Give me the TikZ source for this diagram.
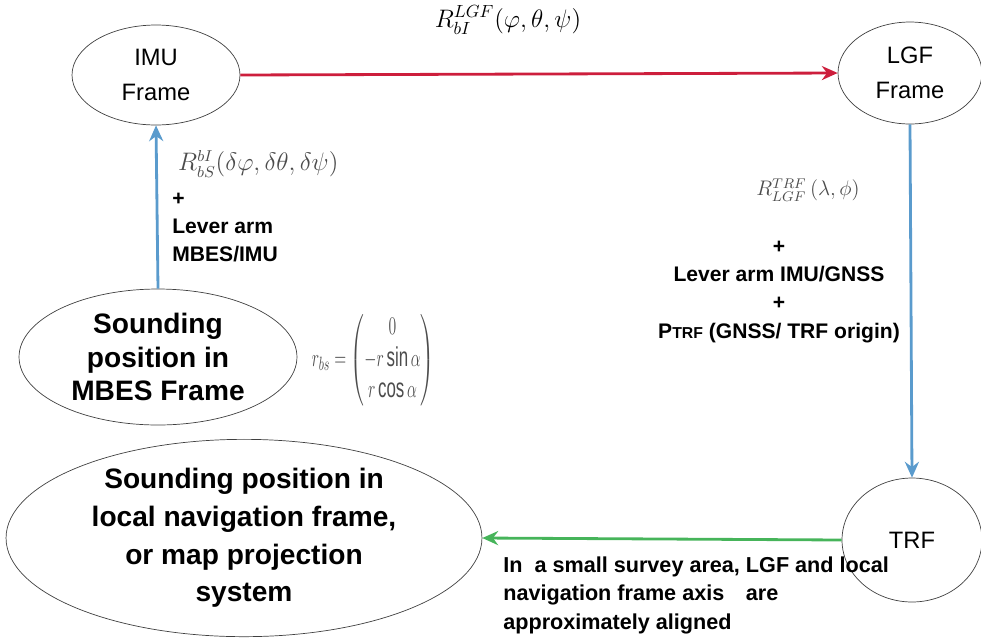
\documentclass[tikz,border=0pt]{standalone}
\usepackage{amsmath}
\usepackage{fontspec}
\setmainfont{Liberation Sans}
\usetikzlibrary{shapes.geometric,arrows.meta}
\definecolor{rotLink}{RGB}{205,30,60}
\definecolor{blauLink}{RGB}{90,155,205}
\definecolor{gruenLink}{RGB}{70,180,90}
\begin{document}
\begin{tikzpicture}[x=0.02cm,y=-0.02cm]
	\tikzset{frame/.style={ellipse, draw=black!75, thin, inner sep=0pt, align=center},
		link/.style={line width=1.6pt, -{Stealth[length=9pt,width=8pt]}},
		note/.style={font=\bfseries\fontsize{12}{16}\selectfont, inner sep=0pt}}
	\useasboundingbox (0,0) rectangle (981,637);

	% Frames
	\node[frame, minimum width=3.36cm, minimum height=2cm, font=\fontsize{13.5}{20}\selectfont] at (156,75) (imu) {IMU\\Frame};
	\node[frame, minimum width=2.88cm, minimum height=2.04cm, font=\fontsize{13.5}{20}\selectfont] at (910,73) (lgf) {LGF\\Frame};
	\node[frame, minimum width=5.56cm, minimum height=2.72cm, font=\bfseries\fontsize{16}{19}\selectfont] at (158,357) (mbes) {Sounding\\position in\\MBES Frame};
	\node[frame, minimum width=2.8cm, minimum height=2.48cm, font=\fontsize{13.5}{20}\selectfont] at (912,540) (trf) {TRF};
	\node[frame, minimum width=9.52cm, minimum height=3.2cm, font=\bfseries\fontsize{16}{21.5}\selectfont] at (244,538) (nav) {Sounding position in\\local navigation frame,\\or map projection\\system};

	% Transformations
	\draw[link, draw=rotLink] (imu.east) -- (lgf.west);
	\draw[link, draw=blauLink] (mbes.north) -- (imu.south);
	\draw[link, draw=blauLink] (lgf.south) -- (trf.north);
	\draw[link, draw=gruenLink] (trf.west) -- (nav.east);

	% Labels
	\node[font=\fontsize{14.5}{17}\selectfont] at (508,20) (rlgf) {$R_{bI}^{LGF}(\varphi,\theta,\psi)$};
	\node[anchor=west, text=black!70, font=\fontsize{13.3}{15}\selectfont] at (172,164) (rbi) {$R_{bS}^{bI}(\delta\varphi,\delta\theta,\delta\psi)$};
	\node[note, anchor=north west, align=left] at (172,193) (lever1) {+\\Lever arm\\MBES/IMU};
	\node[anchor=west, text=black!70, font=\fontsize{15.5}{18}\selectfont, xscale=0.62, transform shape] at (308,360) (rbs)
		{$r_{bs}=\begin{pmatrix}0\\-r\sin\alpha\\r\cos\alpha\end{pmatrix}$};
	\node[text=black!70, font=\fontsize{12}{14}\selectfont] at (808,190) (rtrf) {$R_{LGF}^{TRF}\,(\lambda,\phi)$};
	\node[note, anchor=north, align=center] at (779,241) (lever2)
		{+\\Lever arm IMU/GNSS\\+\\P{\fontsize{9}{10}\selectfont TRF} (GNSS/ TRF origin)};
	\node[note, anchor=north west, align=left, font=\bfseries\fontsize{12.3}{16.4}\selectfont] at (503,556) (aligned)
		{In\ \ a small survey area, LGF and local\\navigation frame axis\quad are\\approximately aligned};
\end{tikzpicture}
\end{document}
